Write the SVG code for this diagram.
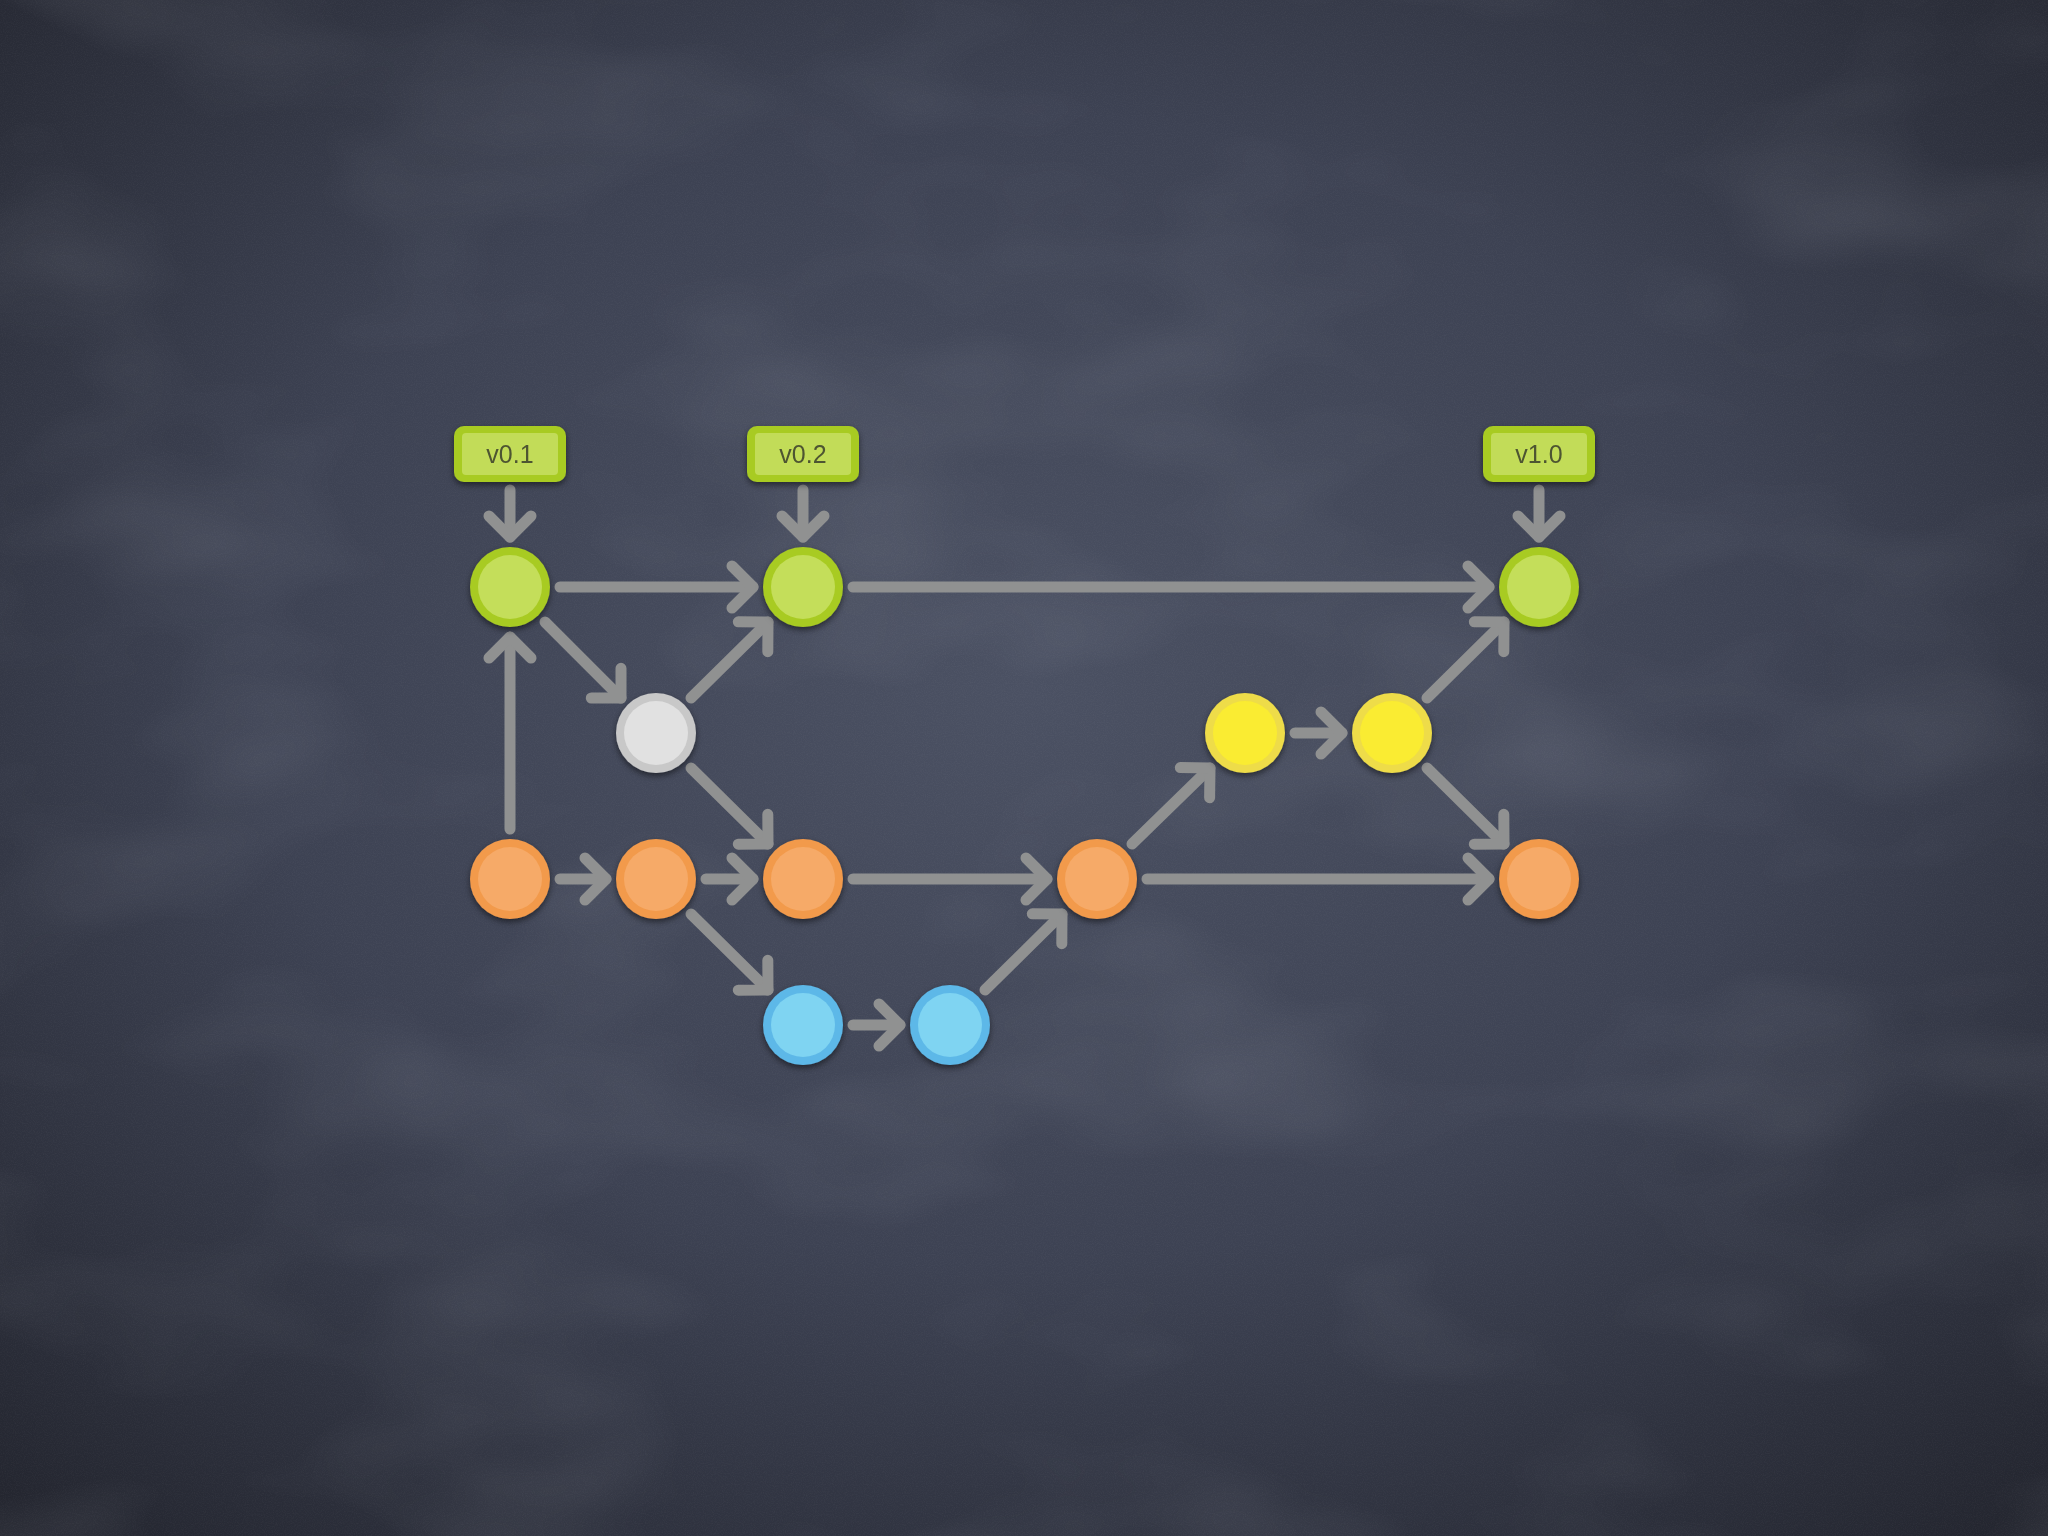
<svg xmlns="http://www.w3.org/2000/svg" width="2048" height="1536" viewBox="0 0 2048 1536">
  <defs>
    <radialGradient id="bg" cx="50%" cy="45%" r="75%">
      <stop offset="0" stop-color="#4b5163"/>
      <stop offset="0.5" stop-color="#3d4253"/>
      <stop offset="1" stop-color="#22242d"/>
    </radialGradient>
    <filter id="grain" x="0" y="0" width="100%" height="100%">
      <feTurbulence type="fractalNoise" baseFrequency="0.9" numOctaves="2" seed="3" result="n"/>
      <feColorMatrix in="n" type="matrix" values="0 0 0 0 1  0 0 0 0 1  0 0 0 0 1  0 0 0 0.9 -0.35"/>
    </filter>
    <filter id="smear" x="0" y="0" width="100%" height="100%">
      <feTurbulence type="fractalNoise" baseFrequency="0.003 0.006" numOctaves="3" seed="7" result="n"/>
      <feColorMatrix in="n" type="matrix" values="0 0 0 0 0.85  0 0 0 0 0.88  0 0 0 0 0.95  0 0 0 1.6 -0.75"/>
    </filter>
    <filter id="sh" x="-30%" y="-30%" width="160%" height="170%">
      <feDropShadow dx="0" dy="3" stdDeviation="3" flood-color="#000" flood-opacity="0.5"/>
    </filter>
    <marker id="ah" markerUnits="userSpaceOnUse" markerWidth="60" markerHeight="60" viewBox="-30 -30 60 60" refX="0" refY="0" orient="auto">
      <path d="M-21,-21 L0,0 L-21,21" fill="none" stroke="#909191" stroke-width="11" stroke-linecap="round" stroke-linejoin="round"/>
    </marker>
    <style>
      .e { fill: none; stroke: #909191; stroke-width: 11; stroke-linecap: round; marker-end: url(#ah); }
      .node { filter: url(#sh); }
      .g .o { fill: #a8cb22; } .g .i { fill: #c4de5a; }
      .or .o { fill: #f29a4b; } .or .i { fill: #f6aa68; }
      .b .o { fill: #5db8e8; } .b .i { fill: #7fd4f2; }
      .y .o { fill: #eedc48; } .y .i { fill: #faec31; }
      .w .o { fill: #c8c8c8; } .w .i { fill: #e1e1e1; }
      .tag .o { fill: #a8cb22; } .tag .i { fill: #c2dc58; }
      .tag text { font-family: "Liberation Sans", Arial, sans-serif; font-size: 25px; fill: #4e5430; text-anchor: middle; }
    </style>
  </defs>

  <rect width="2048" height="1536" fill="url(#bg)"/>
  <rect width="2048" height="1536" filter="url(#smear)" opacity="0.12"/>
  <rect width="2048" height="1536" filter="url(#grain)" opacity="0.08"/>

  <g id="connectors">
    <path class="e" d="M510,490 L510,537"/>
    <path class="e" d="M803,490 L803,537"/>
    <path class="e" d="M1539,490 L1539,537"/>
    <path class="e" d="M560,587 L753,587"/>
    <path class="e" d="M853,587 L1489,587"/>
    <path class="e" d="M560,879 L606,879"/>
    <path class="e" d="M706,879 L753,879"/>
    <path class="e" d="M853,879 L1047,879"/>
    <path class="e" d="M1147,879 L1489,879"/>
    <path class="e" d="M853,1025 L900,1025"/>
    <path class="e" d="M1295,733 L1342,733"/>
    <path class="e" d="M510,829 L510,637"/>
    <path class="e" d="M545,622 L621,698"/>
    <path class="e" d="M691,698 L768,622"/>
    <path class="e" d="M691,768 L768,844"/>
    <path class="e" d="M691,914 L768,990"/>
    <path class="e" d="M985,990 L1062,914"/>
    <path class="e" d="M1132,844 L1210,768"/>
    <path class="e" d="M1427,698 L1504,622"/>
    <path class="e" d="M1427,768 L1504,844"/>
  </g>

  <g id="tag-v01" class="tag node">
    <rect class="o" x="454" y="426" width="112" height="56" rx="10"/>
    <rect class="i" x="462" y="433" width="96" height="42" rx="4"/>
    <text x="510" y="463">v0.1</text>
  </g>
  <g id="tag-v02" class="tag node">
    <rect class="o" x="747" y="426" width="112" height="56" rx="10"/>
    <rect class="i" x="755" y="433" width="96" height="42" rx="4"/>
    <text x="803" y="463">v0.2</text>
  </g>
  <g id="tag-v10" class="tag node">
    <rect class="o" x="1483" y="426" width="112" height="56" rx="10"/>
    <rect class="i" x="1491" y="433" width="96" height="42" rx="4"/>
    <text x="1539" y="463">v1.0</text>
  </g>

  <g id="g1" class="node g"><circle class="o" cx="510" cy="587" r="40"/><circle class="i" cx="510" cy="587" r="32"/></g>
  <g id="g2" class="node g"><circle class="o" cx="803" cy="587" r="40"/><circle class="i" cx="803" cy="587" r="32"/></g>
  <g id="g3" class="node g"><circle class="o" cx="1539" cy="587" r="40"/><circle class="i" cx="1539" cy="587" r="32"/></g>
  <g id="w1" class="node w"><circle class="o" cx="656" cy="733" r="40"/><circle class="i" cx="656" cy="733" r="32"/></g>
  <g id="y1" class="node y"><circle class="o" cx="1245" cy="733" r="40"/><circle class="i" cx="1245" cy="733" r="32"/></g>
  <g id="y2" class="node y"><circle class="o" cx="1392" cy="733" r="40"/><circle class="i" cx="1392" cy="733" r="32"/></g>
  <g id="o1" class="node or"><circle class="o" cx="510" cy="879" r="40"/><circle class="i" cx="510" cy="879" r="32"/></g>
  <g id="o2" class="node or"><circle class="o" cx="656" cy="879" r="40"/><circle class="i" cx="656" cy="879" r="32"/></g>
  <g id="o3" class="node or"><circle class="o" cx="803" cy="879" r="40"/><circle class="i" cx="803" cy="879" r="32"/></g>
  <g id="o4" class="node or"><circle class="o" cx="1097" cy="879" r="40"/><circle class="i" cx="1097" cy="879" r="32"/></g>
  <g id="o5" class="node or"><circle class="o" cx="1539" cy="879" r="40"/><circle class="i" cx="1539" cy="879" r="32"/></g>
  <g id="b1" class="node b"><circle class="o" cx="803" cy="1025" r="40"/><circle class="i" cx="803" cy="1025" r="32"/></g>
  <g id="b2" class="node b"><circle class="o" cx="950" cy="1025" r="40"/><circle class="i" cx="950" cy="1025" r="32"/></g>
</svg>
